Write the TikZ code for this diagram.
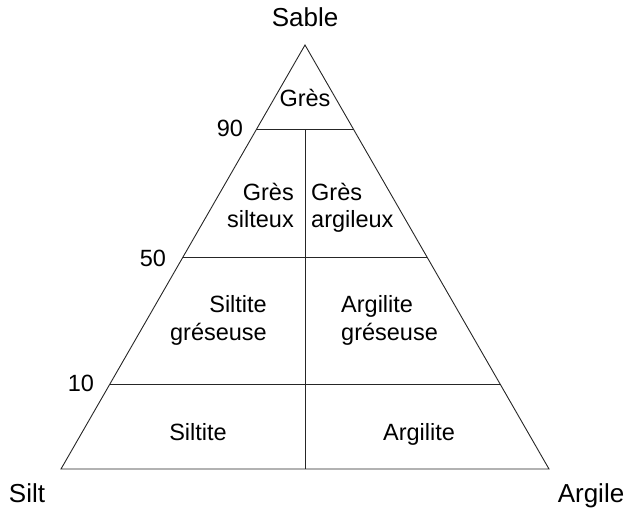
\documentclass[tikz,border=0pt]{standalone}
\usepackage{fontspec}
\setmainfont{Liberation Sans}
\usetikzlibrary{calc}
\begin{document}
\begin{tikzpicture}[x=1pt,y=-1pt,
  edge/.style={line width=0.9pt,black!85},
  corner/.style={inner sep=0pt,anchor=base,font=\fontsize{26}{30}\selectfont},
  zone/.style={inner sep=0pt,font=\fontsize{23.5}{28}\selectfont},
  level/.style={inner sep=0pt,anchor=base,font=\fontsize{23.5}{28}\selectfont}]
\useasboundingbox (0,0) rectangle (626,508);
\coordinate (A) at (305,45);
\coordinate (L) at (61,469);
\coordinate (R) at (549,469);
\coordinate (l90) at ($(L)!0.8!(A)$);
\coordinate (r90) at ($(R)!0.8!(A)$);
\coordinate (l50) at ($(L)!0.5!(A)$);
\coordinate (r50) at ($(R)!0.5!(A)$);
\coordinate (l10) at ($(L)!0.2!(A)$);
\coordinate (r10) at ($(R)!0.2!(A)$);
\coordinate (vt) at ($(l90)!0.5!(r90)$);
\coordinate (vb) at ($(L)!0.5!(R)$);
\draw[edge] (L) -- (A) -- (R) -- cycle;
\draw[edge] (l90) -- (r90);
\draw[edge] (l50) -- (r50);
\draw[edge] (l10) -- (r10);
\draw[edge] (vt) -- (vb);
% corner labels
\node[corner] (sable) at (305,27) {Sable};
\node[corner] (silt) at (27,502) {Silt};
\node[corner] (argile) at (591,502) {Argile};
% level labels
\node[level] (n90) at (230,136) {90};
\node[level] (n50) at (153,266) {50};
\node[level] (n10) at (81,391) {10};
% zone labels
\node[zone,anchor=base] (gres) at (305,107) {Grès};
\node[zone,anchor=base east] (gs1) at (294,200) {Grès};
\node[zone,anchor=base east] (gs2) at (294,227) {silteux};
\node[zone,anchor=base west] (ga1) at (311,200) {Grès};
\node[zone,anchor=base west] (ga2) at (311,227) {argileux};
\node[zone,anchor=base east] (sg1) at (267,312) {Siltite};
\node[zone,anchor=base east] (sg2) at (267,340) {gréseuse};
\node[zone,anchor=base west] (ag1) at (341,312) {Argilite};
\node[zone,anchor=base west] (ag2) at (341,340) {gréseuse};
\node[zone,anchor=base] (siltite) at (198,440) {Siltite};
\node[zone,anchor=base] (argilite) at (419,440) {Argilite};
\end{tikzpicture}
\end{document}
